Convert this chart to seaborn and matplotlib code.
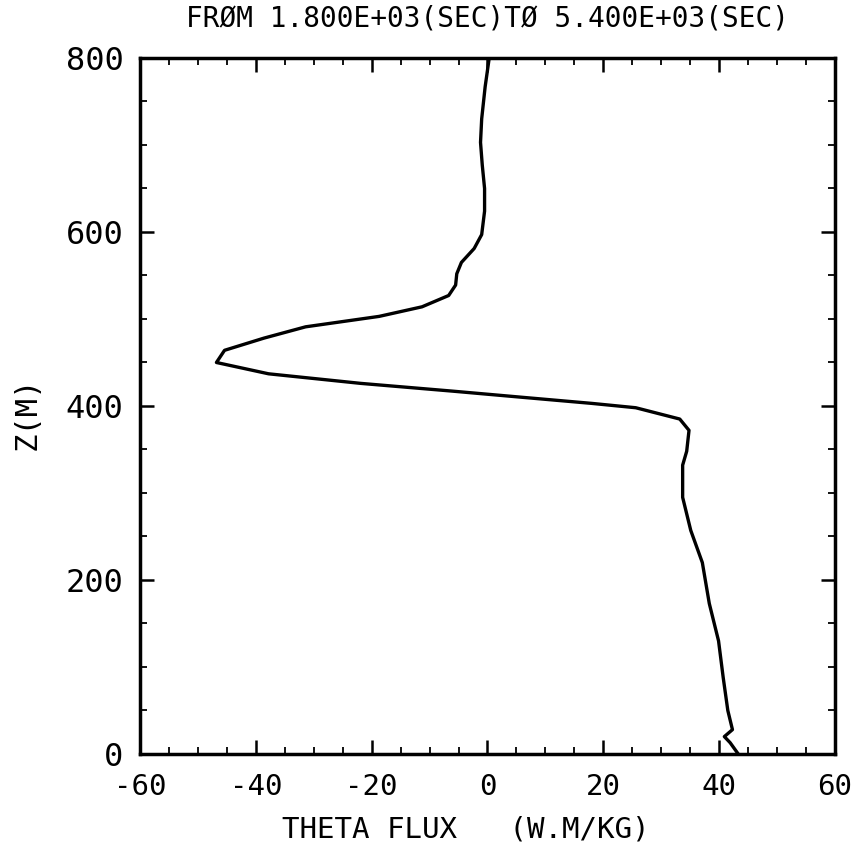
import matplotlib
matplotlib.use("Agg")
import matplotlib.pyplot as plt
import seaborn as sns
import pandas as pd
from matplotlib.ticker import MultipleLocator

# Data (height z in m, theta flux in W.M/KG)
z_m = [800, 767, 730, 703, 677, 650, 624, 597, 581, 565, 552, 539, 527, 514,
       503, 491, 478, 464, 450, 437, 426, 417, 410, 403, 398, 385, 372, 348,
       332, 295, 257, 220, 173, 130, 88, 50, 28, 20, 13, 0]
theta_flux = [0.3, -0.4, -1.0, -1.2, -0.9, -0.5, -0.5, -1.0, -2.3, -4.5, -5.3,
              -5.5, -6.7, -11.3, -18.7, -31.4, -38.6, -45.4, -46.8, -37.8,
              -21.9, -5.9, 6.0, 18.0, 25.6, 33.2, 34.8, 34.4, 33.7, 33.7, 35.1,
              37.1, 38.3, 39.9, 40.7, 41.5, 42.3, 40.9, 41.9, 43.3]

x_ticks = [-60, -40, -20, 0, 20, 40, 60]
y_ticks = [0, 200, 400, 600, 800]
title = "FRØM 1.800E+03(SEC)TØ 5.400E+03(SEC)"
xlabel = "THETA FLUX   (W.M/KG)"
ylabel = "Z(M)"

df = pd.DataFrame({"flux": theta_flux, "z": z_m})

sns.set_theme(style="white")
plt.rcParams['font.family'] = ['DejaVu Sans Mono', 'DejaVu Sans']

fig = plt.figure(figsize=(8.52, 8.49), dpi=100)
ax = fig.add_axes([0.1643, 0.1119, 0.8157, 0.8198])

sns.lineplot(data=df, x="flux", y="z", sort=False, estimator=None,
             color="black", linewidth=2.4, ax=ax)

ax.set_xlim(-60, 60)
ax.set_ylim(0, 800)
ax.set_xticks(x_ticks)
ax.set_yticks(y_ticks)
ax.set_xticklabels([str(t) for t in x_ticks], fontsize=21, color="black")
ax.set_yticklabels([str(t) for t in y_ticks], fontsize=23, color="black")
ax.xaxis.set_minor_locator(MultipleLocator(5))
ax.yaxis.set_minor_locator(MultipleLocator(50))
ax.tick_params(axis="x", which="major", pad=14)
ax.tick_params(axis="y", which="major", pad=12)
ax.tick_params(which="major", direction="in", length=10, width=1.8,
               top=True, right=True, bottom=True, left=True, colors="black")
ax.tick_params(which="minor", direction="in", length=5, width=1.3,
               top=True, right=True, bottom=True, left=True, colors="black")
for s in ax.spines.values():
    s.set_linewidth(2.5)
    s.set_color("black")

ax.set_xlabel(xlabel, fontsize=21, color="black")
ax.xaxis.set_label_coords((465.5 - 140) / 695, (754 - 816) / 696)
ax.set_ylabel(ylabel, fontsize=22, color="black")
ax.yaxis.set_label_coords((27 - 140) / 695, 0.49)
ax.yaxis.label.set_verticalalignment("center")
fig.text(487.5 / 852, 1 - 18 / 849, title, fontsize=20, ha="center",
         va="center", color="black")

fig.savefig("out.png", dpi=100, facecolor="white")
